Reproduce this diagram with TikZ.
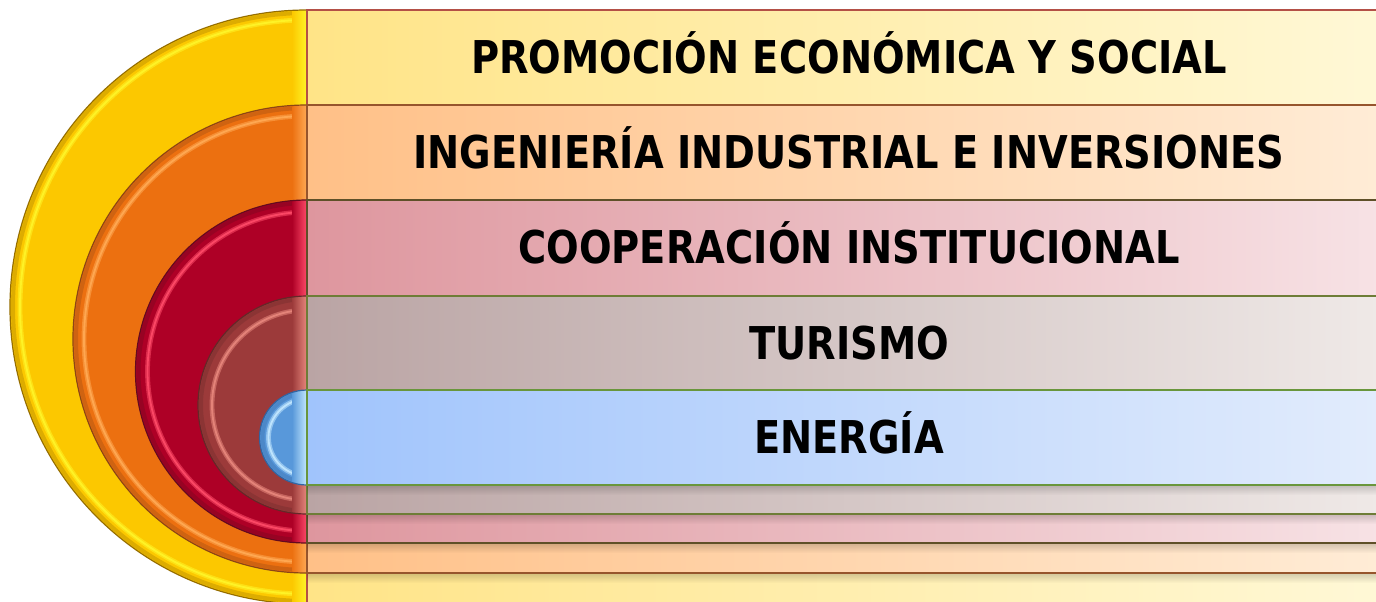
\documentclass[tikz,border=0pt]{standalone}
\usepackage{fontspec}
\usetikzlibrary{fadings}
\newfontfamily\labfont[FakeStretch=0.85]{DejaVu Sans}
\definecolor{ydisc}{RGB}{252,200,0}
\definecolor{yhi}{RGB}{255,245,40}
\definecolor{yedge}{RGB}{150,110,0}
\definecolor{yL}{RGB}{255,228,135}
\definecolor{yR}{RGB}{255,248,214}
\definecolor{yline}{RGB}{180,80,70}
\definecolor{odisc}{RGB}{236,112,16}
\definecolor{ohi}{RGB}{255,170,85}
\definecolor{oedge}{RGB}{140,70,20}
\definecolor{oL}{RGB}{255,192,135}
\definecolor{oR}{RGB}{255,236,214}
\definecolor{oline}{RGB}{150,85,45}
\definecolor{rdisc}{RGB}{174,0,38}
\definecolor{rhi}{RGB}{255,75,105}
\definecolor{redge}{RGB}{100,10,30}
\definecolor{rL}{RGB}{222,150,158}
\definecolor{rR}{RGB}{247,226,229}
\definecolor{rline}{RGB}{95,80,40}
\definecolor{bdisc}{RGB}{156,58,58}
\definecolor{bhi}{RGB}{232,135,125}
\definecolor{bedge}{RGB}{100,40,40}
\definecolor{bL}{RGB}{186,164,164}
\definecolor{bR}{RGB}{239,233,231}
\definecolor{bline}{RGB}{110,125,55}
\definecolor{edisc}{RGB}{88,152,218}
\definecolor{ehi}{RGB}{195,232,255}
\definecolor{eedge}{RGB}{50,100,160}
\definecolor{eL}{RGB}{160,196,252}
\definecolor{eR}{RGB}{226,236,252}
\definecolor{eline}{RGB}{105,150,60}
\tikzset{
  lab/.style={font=\labfont\bfseries\fontsize{22.6}{27}\selectfont, text=black, inner sep=0pt, anchor=base},
}
% #1 top, #2 bottom, #3 colour prefix, #4 highlight inset
\newcommand\drawband[4]{%
  \pgfmathsetmacro\rr{(#2-#1)/2}%
  \pgfmathsetmacro\rh{\rr-#4}%
  \fill[#3disc] (307,#1) arc[start angle=270,end angle=90,radius=\rr] -- cycle;
  \begin{scope}
    \clip (307,#1) arc[start angle=270,end angle=90,radius=\rr] -- cycle;
    \draw[#3edge, line width=2pt, opacity=0.3] (307,#1+3) arc[start angle=270,end angle=90,radius=\rr-3];
    \draw[#3hi, line width=2.4pt, opacity=0.55] (307,#1+#4) arc[start angle=270,end angle=90,radius=\rh];
    \draw[#3hi, line width=0.9pt, opacity=0.9] (307,#1+#4) arc[start angle=270,end angle=90,radius=\rh];
    \shade[left color=#3disc, right color=#3hi] (292,#1) rectangle (307,#2);
  \end{scope}
  \draw[#3edge, line width=0.6pt] (307,#1) arc[start angle=270,end angle=90,radius=\rr];
  \shade[left color=#3L, right color=#3R] (307,#1) rectangle (1380,#2);
  \fill[black, opacity=0.18, path fading=south] (307,#2) rectangle (1380,#2+10);
  \draw[#3line, line width=0.8pt] (307,#1) rectangle (1380,#2);
}
\begin{document}
\begin{tikzpicture}[x=0.5pt,y=-0.5pt]
  \path[use as bounding box] (0,0) rectangle (1376,601);
  \fill[white] (0,0) rectangle (1376,601);
  \clip (0,0) rectangle (1376,601);
  \drawband{10}{604}{y}{10}
  \drawband{105}{573}{o}{11}
  \drawband{200}{543}{r}{12}
  \drawband{296}{514}{b}{14}
  \drawband{390}{485}{e}{9}
  \node[lab] (t1) at (849,73.5) {PROMOCIÓN ECONÓMICA Y SOCIAL};
  \node[lab] (t2) at (849,168.5) {INGENIERÍA INDUSTRIAL E INVERSIONES};
  \node[lab] (t3) at (849,263.5) {COOPERACIÓN INSTITUCIONAL};
  \node[lab] (t4) at (849,359.5) {TURISMO};
  \node[lab] (t5) at (849,453.5) {ENERGÍA};
\end{tikzpicture}
\end{document}
